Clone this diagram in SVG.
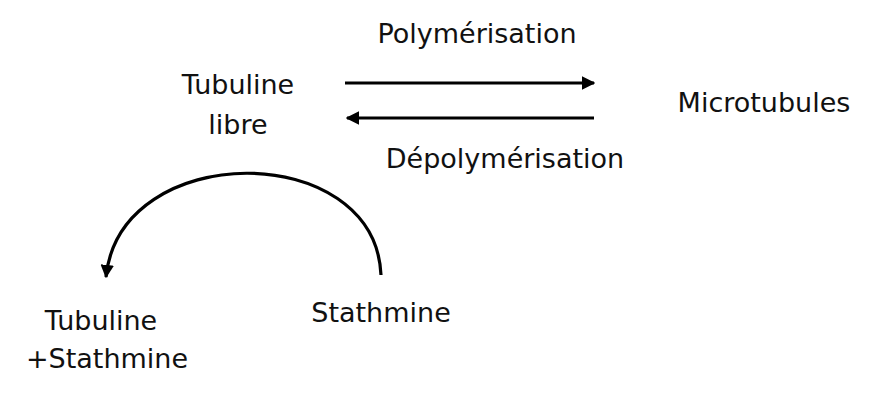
<svg xmlns="http://www.w3.org/2000/svg" width="884" height="410" viewBox="0 0 884 410">
<style>
text{font-family:"DejaVu Sans","Liberation Sans",sans-serif;font-size:27px;fill:#111;text-anchor:middle}
.c{fill:none;stroke:#000;stroke-width:3.2}
</style>
<defs>
<marker id="ah" viewBox="0 0 10 10" refX="9" refY="5" markerWidth="4.2" markerHeight="4.2" orient="auto" markerUnits="strokeWidth">
<path d="M0,0 L10,5 L0,10 Z" fill="#000"/>
</marker>
</defs>
<rect width="884" height="410" fill="#fff"/>
<g id="tubuline-libre"><text x="238" y="94">Tubuline</text><text x="238" y="134">libre</text></g>
<g id="microtubules"><text x="764" y="112">Microtubules</text></g>
<g id="polymerisation"><text x="477" y="43">Polymérisation</text></g>
<g id="depolymerisation"><text x="505" y="168">Dépolymérisation</text></g>
<g id="stathmine"><text x="381" y="322">Stathmine</text></g>
<g id="tubuline-stathmine"><text x="101" y="330">Tubuline</text><text x="107" y="368">+Stathmine</text></g>
<g id="connectors">
<line class="c" x1="345" y1="83" x2="594" y2="83" marker-end="url(#ah)"/>
<line class="c" x1="594" y1="118" x2="347" y2="118" marker-end="url(#ah)"/>
<path class="c" d="M381,275 C375,139 120,139 106,277" marker-end="url(#ah)"/>
</g>
</svg>
